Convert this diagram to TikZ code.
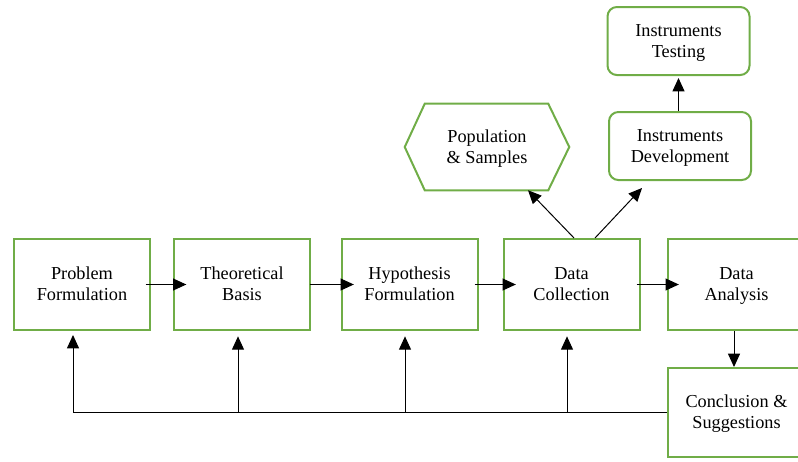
\documentclass[tikz,border=0pt]{standalone}
\usepackage{fontspec}
\setmainfont{Liberation Serif}
\usetikzlibrary{arrows.meta,calc}
\definecolor{boxgreen}{HTML}{70AD47}
\newcommand{\topstrut}{\rule{0pt}{13.5pt}}
\begin{document}
\begin{tikzpicture}[x=0.75pt,y=-0.75pt,
  txt/.style={align=center, inner sep=0pt, font=\fontsize{13.7}{15.75}\selectfont},
  stepbox/.style={txt, draw=boxgreen, line width=1.5pt, fill=white, minimum width=102pt, minimum height=68.25pt},
  roundbox/.style={txt, draw=boxgreen, line width=1.5pt, fill=white, rounded corners=7pt, minimum width=106.5pt, minimum height=51pt},
  hexline/.style={draw=boxgreen, line width=1.5pt},
  arr/.style={-{Triangle[length=10pt,width=9pt]}, line width=0.75pt},
  ln/.style={line width=0.75pt}]
\useasboundingbox (0,0) rectangle (798,461);
\clip (0,0) rectangle (798,461);
% main row
\node[stepbox] (prob) at (82,284.5) {\topstrut Problem\\Formulation\strut};
\node[stepbox] (theo) at (242,284.5) {\topstrut Theoretical\\Basis\strut};
\node[stepbox] (hyp) at (409.5,284.5) {\topstrut Hypothesis\\Formulation\strut};
\node[stepbox] (dc) at (571.5,284.5) {\topstrut Data\\Collection\strut};
\node[stepbox, minimum width=103pt] (da) at (736.5,284.5) {\topstrut Data\\Analysis\strut};
\node[stepbox, minimum width=103pt, minimum height=66.75pt] (conc) at (736.5,412.5) {\topstrut Conclusion \&\\Suggestions\strut};
% upper nodes
\node[txt, minimum width=123pt, minimum height=64.5pt] (pop) at (487,147) {\topstrut Population\\\& Samples\strut};
\draw[hexline] (pop.west) -- ($(pop.north west)+(20,0)$) -- ($(pop.north east)+(-21,0)$) -- (pop.east) -- ($(pop.south east)+(-21,0)$) -- ($(pop.south west)+(20,0)$) -- cycle;
\node[roundbox] (idev) at (680,146) {\topstrut Instruments\\Development\strut};
\node[roundbox] (itest) at (678.5,41) {\topstrut Instruments\\Testing\strut};
% forward arrows
\draw[arr, shorten <=-4pt, shorten >=-10pt] (prob.east) -- (theo.west);
\draw[arr, shorten <=-1pt, shorten >=-10pt] (theo.east) -- (hyp.west);
\draw[arr, shorten <=-3pt, shorten >=-10pt] (hyp.east) -- (dc.west);
\draw[arr, shorten <=-3pt, shorten >=-9pt] (dc.east) -- (da.west);
\draw[arr] ($(da.south)+(-2.5,0)$) -- ($(conc.north)+(-2.5,0)$);
\draw[arr] ($(dc.north)+(2.5,0)$) -- ($(pop.south)+(41,0)$);
\draw[arr] ($(dc.north)+(23.5,0)$) -- ($(idev.south)+(-38,7)$);
\draw[arr, shorten >=1.5pt] (idev.north -| itest.south) -- (itest.south);
% feedback
\coordinate (f1) at ($(prob.south)+(-9,0)$);
\coordinate (f2) at ($(theo.south)+(-4,0)$);
\coordinate (f3) at ($(hyp.south)+(-4.5,0)$);
\coordinate (f4) at ($(dc.south)+(-4.5,0)$);
\draw[ln] (conc.west) -- (f1 |- conc.west);
\draw[arr, shorten >=3pt] (f1 |- conc.west) -- (f1);
\draw[arr, shorten >=4pt] (f2 |- conc.west) -- (f2);
\draw[arr, shorten >=4pt] (f3 |- conc.west) -- (f3);
\draw[arr, shorten >=4pt] (f4 |- conc.west) -- (f4);
\end{tikzpicture}
\end{document}
